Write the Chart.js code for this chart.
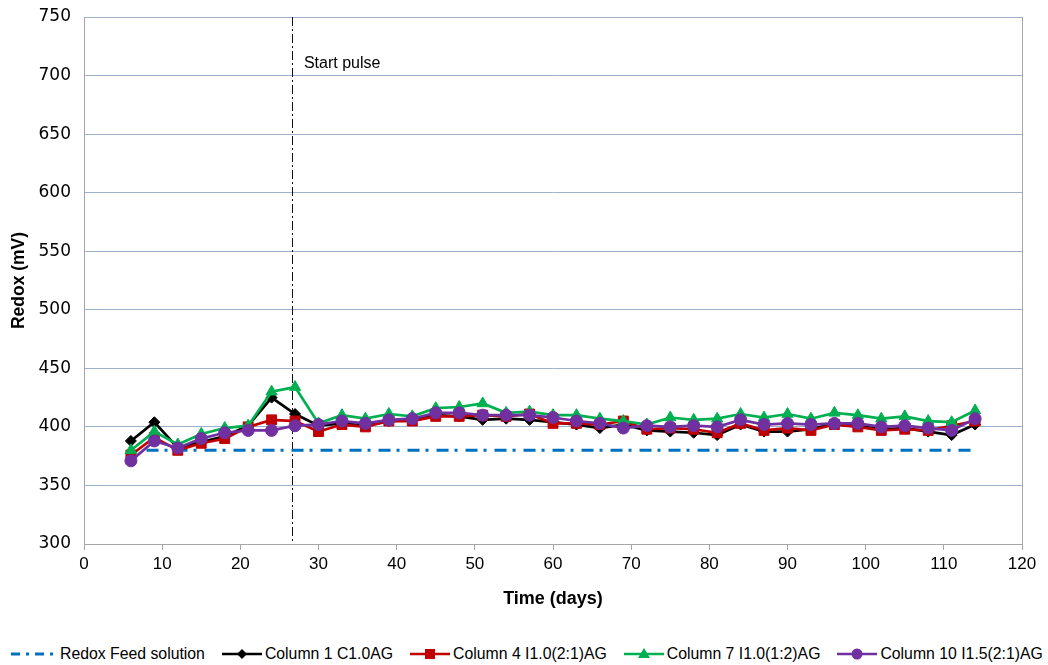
<!DOCTYPE html>
<html>
<head>
<meta charset="utf-8">
<script src="https://cdn.jsdelivr.net/npm/chart.js@4.4.1/dist/chart.umd.min.js"></script>
<style>
  body { margin: 0; background: #fff; width: 1048px; height: 665px; overflow: hidden; position: relative; }
  #wrap { position: absolute; left: 0; top: 0; width: 1048px; height: 620px; }
  #legend { position: absolute; left: 10px; top: 645px; display: flex; align-items: center; gap: 17px;
            font-family: 'Liberation Sans', Arial, sans-serif; font-size: 15.8px; color: #000; white-space: nowrap; }
  .item { display: flex; align-items: center; gap: 3px; }
</style>
</head>
<body>
<div id="wrap"><canvas id="redoxChart" width="1048" height="620"></canvas></div>
<div id="legend"></div>
<script>
// --- Data ---
const days = [6, 9, 12, 15, 18, 21, 24, 27, 30, 33, 36, 39, 42, 45, 48, 51, 54, 57, 60, 63, 66, 69, 72, 75, 78, 81, 84, 87, 90, 93, 96, 99, 102, 105, 108, 111, 114];
const col1 = [388, 404, 382, 387, 392, 401, 425, 411, 401, 403, 401, 405, 406, 410, 409, 406, 407, 406, 404, 402, 399, 402, 397, 396, 395, 393, 402, 396, 396, 398, 403, 401, 398, 399, 396, 393, 402];
const col4 = [376, 391, 380, 386, 390, 400, 406, 405, 396, 402, 400, 405, 405, 409, 409, 410, 409, 411, 403, 403, 402, 405, 398, 399, 398, 395, 403, 397, 399, 397, 402, 400, 397, 398, 397, 401, 405];
const col7 = [380, 396, 385, 394, 399, 401, 430, 434, 403, 410, 407, 411, 409, 416, 417, 420, 412, 413, 410, 410, 407, 405, 402, 408, 406, 407, 411, 408, 411, 407, 412, 410, 407, 409, 405, 404, 414];
const col10 = [371, 388, 382, 390, 395, 397, 397, 401, 402, 405, 403, 406, 407, 412, 412, 410, 410, 410, 408, 405, 403, 399, 401, 400, 401, 400, 406, 402, 403, 402, 403, 403, 400, 401, 399, 397, 407];
const feedDays = [8, 114];
const feedValues = [380, 380];
const pulseDay = 26.6;
const xTicks = { min: 0, max: 120, step: 10 };
const yTicks = { min: 300, max: 750, step: 50 };

const pts = (xs, ys) => xs.map((x, i) => ({ x: x, y: ys[i] }));

const series = [
    { label: 'Redox Feed solution', data: pts(feedDays, feedValues), color: '#0070C0', dash: [12, 6, 3, 8], width: 3, point: false, order: 5 },
    { label: 'Column 1 C1.0AG', data: pts(days, col1), color: '#000000', point: 'rectRot', radius: 5.5, order: 4 },
    { label: 'Column 4 I1.0(2:1)AG', data: pts(days, col4), color: '#C00000', point: 'rect', radius: 7, order: 3 },
    { label: 'Column 7 I1.0(1:2)AG', data: pts(days, col7), color: '#00B050', point: 'triangle', radius: 6.5, order: 2 },
    { label: 'Column 10 I1.5(2:1)AG', data: pts(days, col10), color: '#7030A0', point: 'circle', radius: 6, order: 1 }
];

// vertical dash-dot marker with caption, plus right edge of the plot frame
const pulseLine = {
    id: 'pulseLine',
    beforeDatasetsDraw(chart) {
        const { ctx, chartArea, scales } = chart;
        const x = scales.x.getPixelForValue(pulseDay);
        ctx.save();
        ctx.strokeStyle = '#a6a6a6';
        ctx.lineWidth = 1;
        ctx.beginPath();
        ctx.moveTo(chartArea.right + 0.5, chartArea.top);
        ctx.lineTo(chartArea.right + 0.5, chartArea.bottom);
        ctx.stroke();
        ctx.strokeStyle = '#111';
        ctx.setLineDash([9, 3, 2, 3]);
        ctx.beginPath();
        ctx.moveTo(Math.round(x) + 0.5, chartArea.top);
        ctx.lineTo(Math.round(x) + 0.5, chartArea.bottom);
        ctx.stroke();
        ctx.setLineDash([]);
        ctx.fillStyle = '#000';
        ctx.font = '16px "Liberation Sans", Arial, sans-serif';
        ctx.textBaseline = 'middle';
        ctx.fillText('Start pulse', x + 12, scales.y.getPixelForValue(710));
        ctx.restore();
    }
};

new Chart(document.getElementById('redoxChart'), {
    type: 'line',
    data: {
        datasets: series.map(s => ({
            label: s.label,
            data: s.data,
            borderColor: s.color,
            backgroundColor: s.color,
            borderWidth: s.width || 2.7,
            borderDash: s.dash || [],
            pointStyle: s.point,
            pointRadius: s.point ? s.radius : 0,
            pointBorderWidth: 1,
            pointBorderColor: s.color,
            pointBackgroundColor: s.color,
            tension: 0,
            fill: false,
            order: s.order
        }))
    },
    options: {
        responsive: false,
        animation: false,
        layout: { padding: { top: 17, right: 26, bottom: 0, left: 0 } },
        plugins: { legend: { display: false }, tooltip: { enabled: false } },
        scales: {
            x: {
                type: 'linear', min: xTicks.min, max: xTicks.max,
                afterFit: (s) => { s.height = 76; s.paddingLeft = 0; s.paddingRight = 0; },
                ticks: { stepSize: xTicks.step, color: '#000', padding: 4,
                         font: { family: '"Liberation Sans", Arial, sans-serif', size: 17 } },
                grid: { drawOnChartArea: false, drawTicks: true, tickLength: 6, color: '#a6a6a6' },
                border: { color: '#a6a6a6', width: 1 },
                title: { display: true, text: 'Time (days)', color: '#000', padding: { top: 0, bottom: 10 },
                         font: { family: '"Liberation Sans", Arial, sans-serif', size: 18, weight: 'bold' } }
            },
            y: {
                min: yTicks.min, max: yTicks.max,
                afterFit: (s) => { s.width = 84; s.paddingTop = 0; s.paddingBottom = 0; },
                ticks: { stepSize: yTicks.step, color: '#000', padding: 13,
                         font: { family: '"DejaVu Sans", Verdana, sans-serif', size: 17 } },
                grid: { color: '#9db0cc', lineWidth: 1, drawTicks: false },
                border: { color: '#a6a6a6', width: 1 },
                title: { display: true, text: 'Redox (mV)', color: '#000', padding: { top: 9, bottom: 0 },
                         font: { family: '"Liberation Sans", Arial, sans-serif', size: 17.5, weight: 'bold' } }
            }
        }
    },
    plugins: [pulseLine]
});

// --- Legend ---
const markerSvg = (s) => {
    const c = s.color;
    if (!s.point) {
        return `<svg width="47" height="14"><line x1="1" y1="7" x2="47" y2="7" stroke="${c}" stroke-width="3" stroke-dasharray="9,6,3,6"/></svg>`;
    }
    let m = '';
    if (s.point === 'rectRot') m = `<polygon points="20,2 25,7 20,12 15,7" fill="${c}"/>`;
    else if (s.point === 'rect') m = `<rect x="15" y="2" width="10" height="10" fill="${c}"/>`;
    else if (s.point === 'triangle') m = `<polygon points="20,1 26,11 14,11" fill="${c}"/>`;
    else m = `<circle cx="20" cy="7" r="5.5" fill="${c}"/>`;
    return `<svg width="40" height="14"><line x1="0" y1="7" x2="40" y2="7" stroke="${c}" stroke-width="2.5"/>${m}</svg>`;
};
document.getElementById('legend').innerHTML = series.map(s =>
    `<div class="item">${markerSvg(s)}<span>${s.label}</span></div>`).join('');
</script>
</body>
</html>
